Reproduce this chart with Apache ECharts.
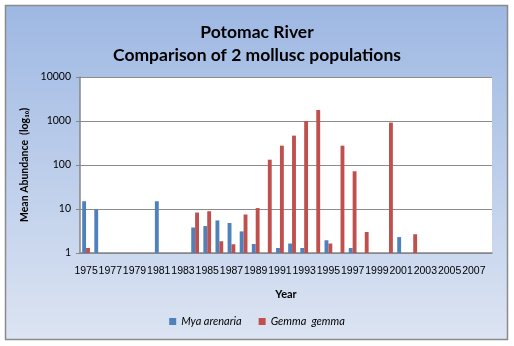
<!DOCTYPE html>
<html>
<head>
<meta charset="utf-8">
<script src="https://cdn.jsdelivr.net/npm/echarts@6/dist/echarts.min.js"></script>
<style>html,body{margin:0;padding:0;background:#fff}#c{width:514px;height:346px}</style>
</head>
<body>
<div id="c"></div>
<script>
var years = [];
for (var y = 1975; y <= 2008; y++) years.push(String(y));
var myaArenaria = [15, 9.8, null, null, null, null, 15, null, null, 3.8, 4.1, 5.5, 4.8, 3.1, 1.6, null, 1.3, 1.64, 1.3, null, 1.95, null, 1.3, null, null, null, 2.3, null, null, null, null, null, null, null];
var gemmaGemma = [1.3, null, null, null, null, null, null, null, null, 8.3, 8.9, 1.85, 1.58, 7.5, 10.5, 132, 275, 465, 1000, 1780, 1.64, 275, 72, 3.0, null, 920, null, 2.67, null, null, null, null, null, null];
var yTicks = [1, 10, 100, 1000, 10000];

var chart = echarts.init(document.getElementById('c'), null, {renderer: 'canvas'});
var font = 'Lato, "Open Sans", sans-serif';
chart.setOption({
  animation: false,
  backgroundColor: '#ffffff',
  graphic: [{
    type: 'rect', z: -10, silent: true,
    shape: {x: 5.5, y: 5.5, width: 502, height: 334},
    style: {
      fill: new echarts.graphic.LinearGradient(0, 0, 0, 1, [
        {offset: 0, color: '#9eb8e3'}, {offset: 1, color: '#dce4f2'}
      ]),
      stroke: '#8a8a8a', lineWidth: 1.5
    }
  }],
  title: {
    text: 'Potomac River\nComparison of 2 mollusc populations',
    left: 'center', top: 16,
    textStyle: {fontFamily: font, fontWeight: 'bold', fontSize: 17.5, lineHeight: 23, color: '#000'}
  },
  legend: {
    bottom: 14, left: 'center',
    itemWidth: 7, itemHeight: 7, itemGap: 17,
    icon: 'rect',
    textStyle: {fontFamily: font, fontStyle: 'italic', fontSize: 11, color: '#000'},
    data: ['Mya arenaria', 'Gemma  gemma']
  },
  grid: {left: 80, right: 22, top: 77, bottom: 93, show: true, backgroundColor: '#ffffff', borderWidth: 0},
  xAxis: {
    type: 'category', data: years,
    name: 'Year', nameLocation: 'middle', nameGap: 36,
    nameTextStyle: {fontFamily: font, fontWeight: 'bold', fontSize: 11, color: '#000'},
    axisLine: {lineStyle: {color: '#868686', width: 1.5}},
    axisTick: {interval: 0, length: 4, lineStyle: {color: '#868686'}},
    axisLabel: {interval: 1, hideOverlap: false, showMinLabel: true, fontFamily: '"Liberation Sans", sans-serif', fontSize: 10.5, color: '#000', margin: 13}
  },
  yAxis: {
    type: 'log', logBase: 10, min: 1, max: 10000,
    name: 'Mean Abundance  (log\u2081\u2080)', nameLocation: 'middle', nameGap: 50, nameRotate: 90,
    nameTextStyle: {fontFamily: font, fontWeight: 'bold', fontSize: 10.5, color: '#000'},
    axisLine: {show: true, lineStyle: {color: '#868686', width: 1.5}},
    axisTick: {show: true, length: 4, lineStyle: {color: '#868686'}},
    minorTick: {show: false},
    splitLine: {show: true, lineStyle: {color: '#8c8c8c', width: 1}},
    axisLabel: {fontFamily: font, fontSize: 10.5, color: '#000', margin: 9,
      formatter: function (v) { return yTicks.indexOf(v) >= 0 ? String(v) : ''; }}
  },
  series: [
    {name: 'Mya arenaria', type: 'bar', data: myaArenaria, barGap: '0%', barCategoryGap: '36%',
     itemStyle: {color: '#4f81bd'}},
    {name: 'Gemma  gemma', type: 'bar', data: gemmaGemma, barGap: '0%', barCategoryGap: '36%',
     itemStyle: {color: '#c0504d'}}
  ]
});
</script>
</body>
</html>
